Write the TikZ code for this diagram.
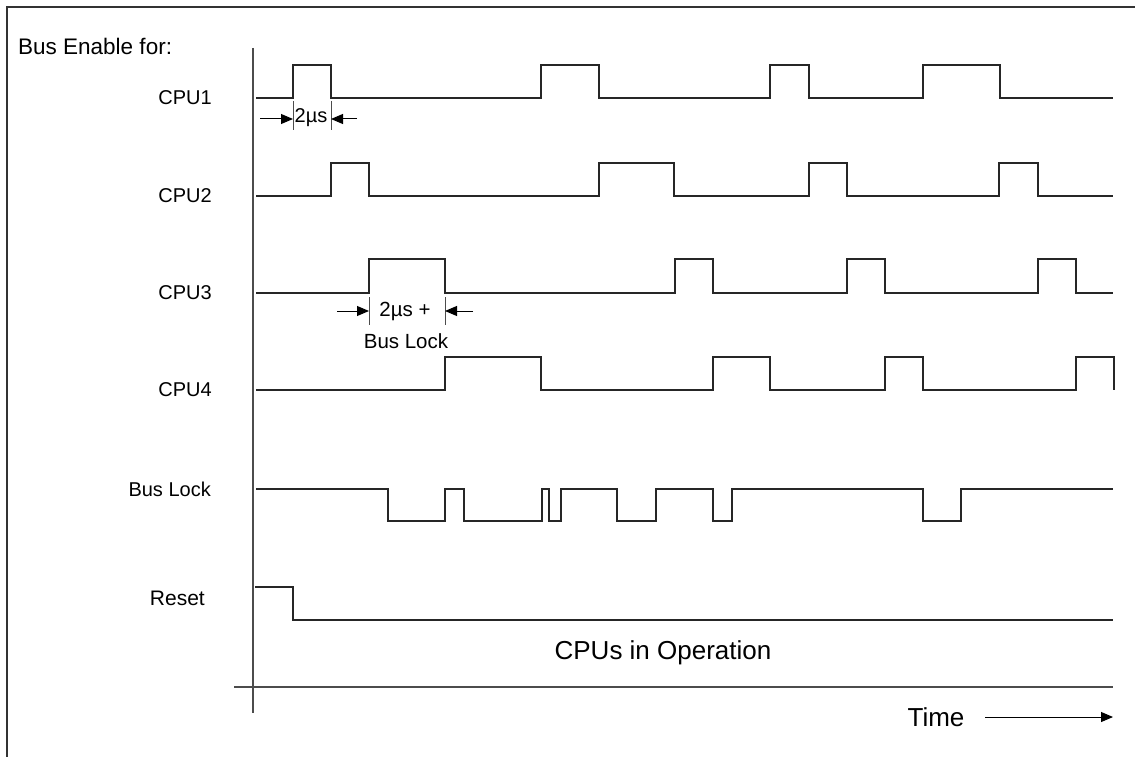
\documentclass[tikz,border=0pt]{standalone}
\usepackage{fontspec}
\setmainfont{Liberation Sans}
\usetikzlibrary{arrows.meta}
\begin{document}
\begin{tikzpicture}[x=1pt,y=-1pt,
  sig/.style={draw=black!85, line width=1.3pt, line join=miter},
  axis/.style={draw=black!70, line width=1.3pt},
  lbl/.style={inner sep=0pt, font=\fontsize{20}{24}\selectfont, anchor=east},
  big/.style={inner sep=0pt, font=\fontsize{26}{30}\selectfont},
  small/.style={inner sep=0pt, font=\fontsize{20.5}{24}\selectfont},
  tick/.style={draw=black!70, line width=1pt},
  dimarrow/.style={draw=black, line width=1pt, -{Triangle[length=12pt,width=10pt]}}]
\useasboundingbox (0,0) rectangle (1135,757);
% frame
\draw[line width=1.6pt, black!80] (7,757) -- (7,7) -- (1135,7);
% axes
\draw[axis] (253,48) -- (253,713);
\draw[axis] (234,687) -- (1113,687);
% labels
\node[lbl, anchor=west, font=\fontsize{22.5}{26}\selectfont] (be) at (18,46) {Bus Enable for:};
\node[lbl] (c1) at (212,98) {CPU1};
\node[lbl] (c2) at (212,196) {CPU2};
\node[lbl] (c3) at (212,293) {CPU3};
\node[lbl] (c4) at (212,390) {CPU4};
\node[lbl] (bl) at (211,489) {Bus Lock};
\node[lbl, font=\fontsize{21}{25}\selectfont] (rs) at (205,598) {Reset};
\node[big] (op) at (663,653) {CPUs in Operation};
\node[big] (tm) at (936,717) {Time};
% waveforms
\draw[sig] (256,98) -| (293,65) -| (331,98) -| (541,65) -| (599,98) -| (770,65) -| (809,98) -| (923,65) -| (1000,98) -- (1113,98);
\draw[sig] (256,196) -| (331,163) -| (369,196) -| (599,163) -| (674,196) -| (809,163) -| (847,196) -| (999,163) -| (1038,196) -- (1113,196);
\draw[sig] (256,293) -| (369,259) -| (445,293) -| (675,259) -| (713,293) -| (847,259) -| (885,293) -| (1038,259) -| (1076,293) -- (1113,293);
\draw[sig] (256,390) -| (445,357) -| (541,390) -| (713,357) -| (770,390) -| (885,357) -| (923,390) -| (1076,357) -| (1114,390);
\draw[sig] (256,489) -| (388,521) -| (445,489) -| (464,521) -| (542,489) -| (549,521) -| (561,489) -| (617,521) -| (656,489) -| (713,521) -| (732,489) -| (923,521) -| (961,489) -- (1113,489);
\draw[sig] (255,587) -| (293,620) -- (1113,620);
% time arrow
\coordinate (ta) at (985,717);
\coordinate (tb) at (1113,717);
\draw[dimarrow] (ta) -- (tb);
% 2us dimension
\draw[tick] (293,101) -- (293,130);
\draw[tick] (331,101) -- (331,130);
\coordinate (d1a) at (260,119); \coordinate (d1b) at (293,119);
\coordinate (d1c) at (357,119); \coordinate (d1d) at (331,119);
\draw[dimarrow] (d1a) -- (d1b);
\draw[dimarrow] (d1c) -- (d1d);
\node[small, font=\fontsize{20}{24}\selectfont] (t1) at (311,118) {2µs};
% 2us + bus lock dimension
\draw[tick] (369,297) -- (369,325);
\draw[tick] (445,297) -- (445,325);
\coordinate (d2a) at (337,311); \coordinate (d2b) at (369,311);
\coordinate (d2c) at (473,311); \coordinate (d2d) at (445,311);
\draw[dimarrow] (d2a) -- (d2b);
\draw[dimarrow] (d2c) -- (d2d);
\node[small] (t2) at (405,311) {2µs +};
\node[small] (t3) at (406,341) {Bus Lock};
\end{tikzpicture}
\end{document}
